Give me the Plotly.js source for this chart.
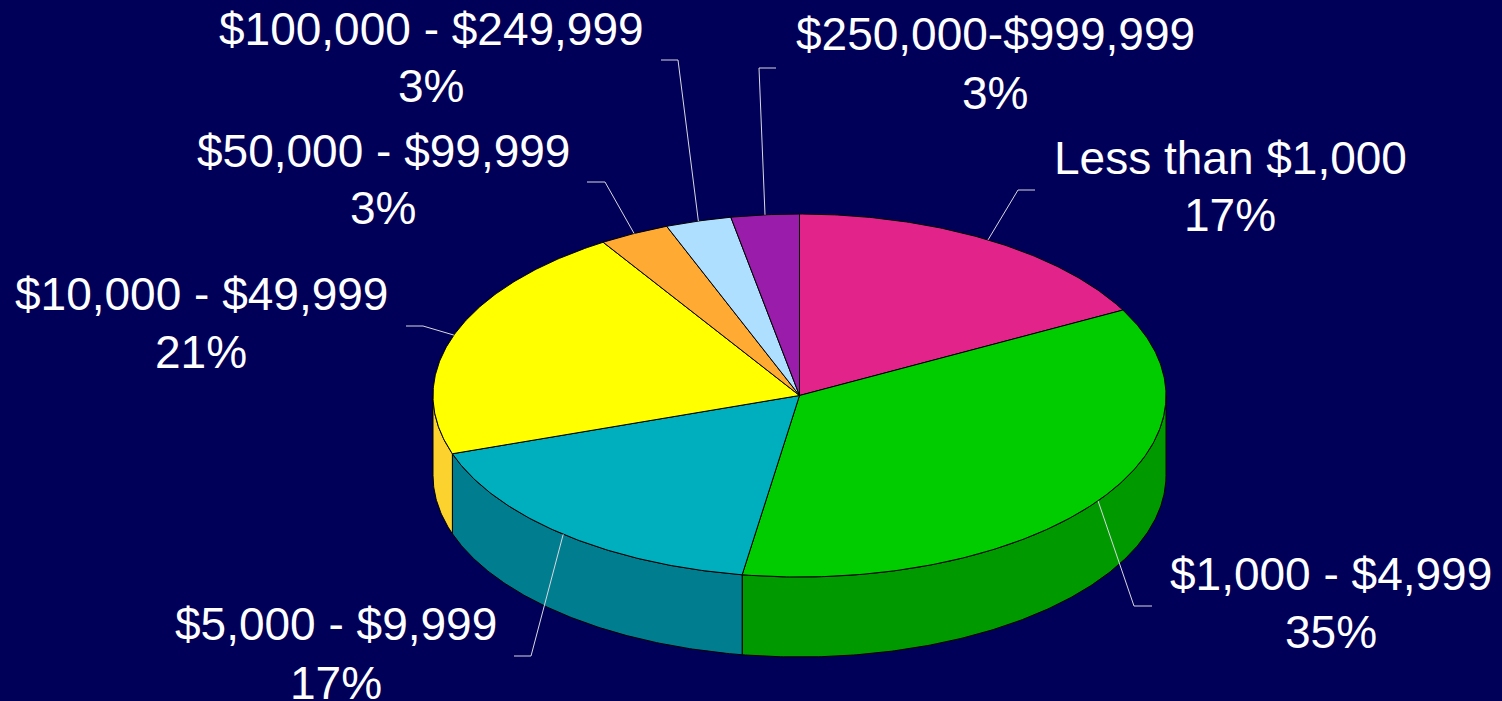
<!DOCTYPE html>
<html>
<head>
<meta charset="utf-8">
<script src="https://cdn.plot.ly/plotly-3.0.1.min.js"></script>
<style>
  html, body { margin: 0; padding: 0; background: #000058; overflow: hidden; }
  #chart { width: 1502px; height: 701px; }
</style>
</head>
<body>
<div id="chart"></div>
<script>
// ---- data ----
const categories = [
  "Less than $1,000",
  "$1,000 - $4,999",
  "$5,000 - $9,999",
  "$10,000 - $49,999",
  "$50,000 - $99,999",
  "$100,000 - $249,999",
  "$250,000-$999,999"
];
const values = [17.2, 35.3, 17.3, 21.2, 3.1, 2.9, 3.0];
const topColors  = ["#E2238A", "#00CC00", "#00AFBE", "#FFFF00", "#FFAA33", "#AEDFFF", "#9A1CAA"];
const sideColors = ["#A8186A", "#009900", "#007D8F", "#FCD22E", "#C07E22", "#80A8C0", "#6E127A"];

// ---- layout constants (pie geometry and label placement) ----
const CX = 799.5, CY = 395.5, RX = 366.5, RY = 181.5, DEPTH = 80;
const labelX = [1230, 1331, 336, 201, 383, 431, 995];
const nameY  = [158, 574, 624, 294, 151, 29, 34];
const pctY   = [215, 632, 683, 352, 208, 86, 93];
const elbowX = [1018, 1134, 531, 423, 605, 678, 759];
const elbowY = [190, 606, 656, 326, 182, 60, 68];
const endX   = [1035, 1152, 514, 406, 587, 661, 776];
const FONT = "Liberation Sans, Arial, sans-serif";

// angle in degrees, clockwise from 12 o'clock
function px(t) { return CX + RX * Math.sin(t * Math.PI / 180); }
function py(t) { return CY - RY * Math.cos(t * Math.PI / 180); }

const total = values.reduce((a, b) => a + b, 0);
const starts = [], ends = [];
let acc = 0;
values.forEach(v => { starts.push(acc / total * 360); acc += v; ends.push(acc / total * 360); });

function arc(a0, a1, dy) {
  const xs = [], ys = [];
  const n = Math.max(2, Math.ceil(Math.abs(a1 - a0) / 0.5));
  for (let i = 0; i <= n; i++) {
    const t = a0 + (a1 - a0) * i / n;
    xs.push(px(t)); ys.push(py(t) + dy);
  }
  return [xs, ys];
}

const traces = [];
// side walls (front half only: 90..270 degrees)
values.forEach((v, i) => {
  const s0 = Math.max(starts[i], 90), s1 = Math.min(ends[i], 270);
  if (s1 <= s0) return;
  const [tx, ty] = arc(s0, s1, 0);
  const [bx, by] = arc(s1, s0, DEPTH);
  traces.push({
    type: "scatter", mode: "lines", x: tx.concat(bx, [tx[0]]), y: ty.concat(by, [ty[0]]),
    fill: "toself", fillcolor: sideColors[i], line: { color: "#000000", width: 1 },
    hoverinfo: "skip", showlegend: false
  });
});
// top faces
values.forEach((v, i) => {
  const [ax, ay] = arc(starts[i], ends[i], 0);
  traces.push({
    type: "scatter", mode: "lines", x: [CX].concat(ax, [CX]), y: [CY].concat(ay, [CY]),
    fill: "toself", fillcolor: topColors[i], line: { color: "#000000", width: 1 },
    hoverinfo: "skip", showlegend: false, name: categories[i]
  });
});
// leader lines
values.forEach((v, i) => {
  const mid = (starts[i] + ends[i]) / 2;
  traces.push({
    type: "scatter", mode: "lines",
    x: [px(mid), elbowX[i], endX[i]], y: [py(mid), elbowY[i], elbowY[i]],
    line: { color: "#D8D8E0", width: 1 }, hoverinfo: "skip", showlegend: false
  });
});

const annotations = [];
values.forEach((v, i) => {
  annotations.push({ x: labelX[i], y: nameY[i], xref: "x", yref: "y", text: categories[i],
    showarrow: false, xanchor: "center", yanchor: "middle", font: { family: FONT, size: 46, color: "#FFFFFF" } });
  annotations.push({ x: labelX[i], y: pctY[i], xref: "x", yref: "y", text: Math.round(v / total * 100) + "%",
    showarrow: false, xanchor: "center", yanchor: "middle", font: { family: FONT, size: 46, color: "#FFFFFF" } });
});

const layout = {
  width: 1502, height: 701,
  margin: { l: 0, r: 0, t: 0, b: 0, pad: 0 },
  paper_bgcolor: "#000058", plot_bgcolor: "#000058",
  xaxis: { range: [0, 1502], visible: false, fixedrange: true },
  yaxis: { range: [701, 0], visible: false, fixedrange: true },
  showlegend: false,
  annotations: annotations
};

Plotly.newPlot("chart", traces, layout, { staticPlot: true, displayModeBar: false });
</script>
</body>
</html>
